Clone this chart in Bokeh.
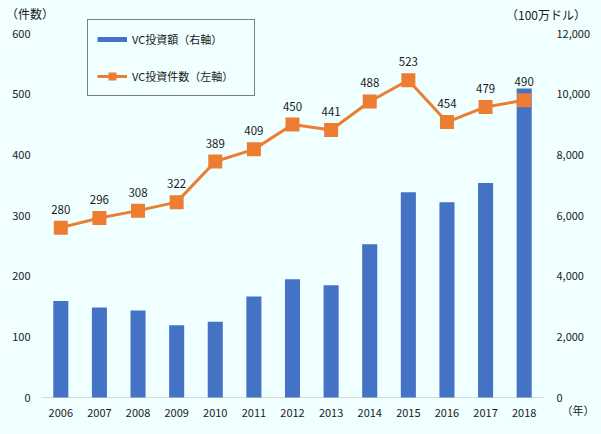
from bokeh.plotting import figure
from bokeh.models import Range1d, Label, Legend, LegendItem, ColumnDataSource
from bokeh.embed import file_html
from bokeh.resources import INLINE
from bokeh.core.properties import value

years = ["2006", "2007", "2008", "2009", "2010", "2011", "2012", "2013", "2014", "2015", "2016", "2017", "2018"]
vc_amount = [3180, 2970, 2870, 2380, 2500, 3330, 3900, 3700, 5050, 6770, 6440, 7070, 10190]
vc_count = [280, 296, 308, 322, 389, 409, 450, 441, 488, 523, 454, 479, 490]
left_ticks = [0, 100, 200, 300, 400, 500, 600]
right_ticks = [0, 2000, 4000, 6000, 8000, 10000, 12000]

BG = "#F0FFFF"
FONT = "Noto Sans CJK JP"
TXT = "#1a1a1a"
BLUE = "#4472C4"
ORANGE = "#ED7D31"

# layout (pixels)
W, H = 601, 434
FL, FR, FT, FB = 41, 543, 33, 397
n = len(years)
LMAX, RMAX = left_ticks[-1], right_ticks[-1]
xpp = n / (FR - FL)
ypp = LMAX / (FB - FT)
rpp = RMAX / (FB - FT)

def px_x(px):
    return -0.5 + (px - FL) * xpp

def px_y(py):
    return (FB - py) * ypp

idx = list(range(n))
src = ColumnDataSource(dict(x=idx, amount=vc_amount, count=vc_count,
                            lbl=[str(v) for v in vc_count]))

p = figure(width=W, height=H, output_backend="svg", toolbar_location=None,
           x_axis_type=None, y_axis_type=None,
           x_range=Range1d(px_x(0), px_x(W)), y_range=Range1d(px_y(H), px_y(0)),
           min_border=0)
p.extra_y_ranges = {"right": Range1d(-(H - FB) * rpp, RMAX + FT * rpp)}
p.background_fill_color = BG
p.border_fill_color = BG
p.outline_line_color = None
p.grid.visible = False

# baseline (x axis line)
p.segment(x0=[-0.5], y0=[0], x1=[n - 0.5], y1=[0], line_color="#D9D9D9", line_width=1)

bars = p.vbar(x="x", top="amount", width=0.39, source=src, y_range_name="right",
              fill_color=BLUE, line_color=None)
line = p.line(x="x", y="count", source=src, line_color=ORANGE, line_width=3)
pts = p.scatter(x="x", y="count", source=src, marker="square", size=14,
                fill_color=ORANGE, line_color=None)
p.text(x="x", y="count", text="lbl", source=src, text_align="center", text_baseline="bottom",
       y_offset=-14, text_font=value(FONT), text_font_size="11.5px", text_color=TXT)

# legend-only swatch for the bar series (thin bar key as in the original legend)
bar_key = p.line(x=[float("nan")], y=[float("nan")], line_color=BLUE, line_width=5)

# axis tick labels
p.text(x=idx, y=[0] * n, text=years, text_align="center", text_baseline="middle",
       y_offset=15, text_font=value(FONT), text_font_size="11px", text_color=TXT)
p.text(x=[-0.5] * len(left_ticks), y=left_ticks, text=[str(v) for v in left_ticks],
       text_align="right", text_baseline="middle", x_offset=-11,
       text_font=value(FONT), text_font_size="11px", text_color=TXT)
p.text(x=[n - 0.5] * len(right_ticks), y=right_ticks, y_range_name="right",
       text=[f"{v:,}" for v in right_ticks],
       text_align="left", text_baseline="middle", x_offset=13,
       text_font=value(FONT), text_font_size="11px", text_color=TXT)

# axis unit labels
for txt, cx, cy, fs in [("（件数）", 29.5, 13, "12px"), ("（100万ドル）", 545.5, 14, "12px"),
                        ("（年）", 577.5, 409, "11px")]:
    p.add_layout(Label(x=px_x(cx), y=px_y(cy), text=txt, text_font=FONT, text_font_size=fs,
                       text_color=TXT, text_align="center", text_baseline="middle"))

legend = Legend(items=[LegendItem(label="VC投資額（右軸）", renderers=[bar_key]),
                       LegendItem(label="VC投資件数（左軸）", renderers=[line, pts])],
                location=(87, H - 96))
legend.border_line_color = "black"
legend.border_line_width = 1
legend.background_fill_color = BG
legend.background_fill_alpha = 1
legend.label_text_font = FONT
legend.label_text_font_size = "11px"
legend.label_text_color = TXT
legend.padding = 9
legend.spacing = 17
legend.glyph_width = 30
legend.glyph_height = 20
legend.label_height = 20
legend.label_width = 113
legend.label_standoff = 5
legend.margin = 0
p.add_layout(legend, "center")

open("out.html", "w").write(file_html(p, INLINE))
